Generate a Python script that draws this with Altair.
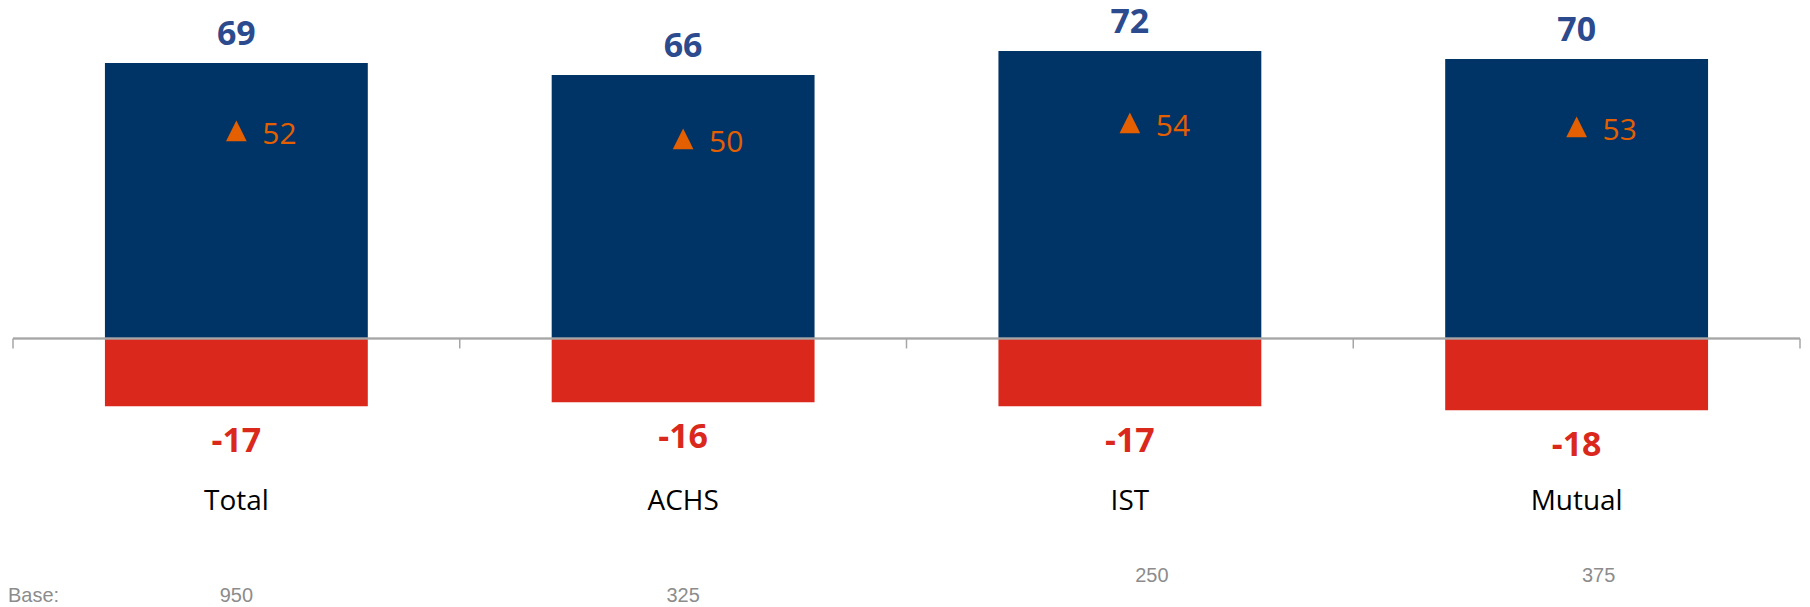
import altair as alt
import pandas as pd

categories = ["Total", "ACHS", "IST", "Mutual"]
positive = [69, 66, 72, 70]
negative = [-17, -16, -17, -18]
marker = [52, 50, 54, 53]
base = [950, 325, 250, 375]

df = pd.DataFrame({
    "cat": categories,
    "pos": positive,
    "neg": negative,
    "mark": marker,
    "base": [str(b) for b in base],
})
df["pos_label"] = df["pos"].astype(str)
df["neg_label"] = df["neg"].astype(str)
df["mark_label"] = df["mark"].astype(str)

W, H = 1790, 410
P_INNER, P_OUTER = 0.4116, 0.2058
STEP = W / len(categories)
GAP_HALF = STEP * P_INNER / 2
TICK_LEN = 2.5  # in y units (10 px)

NAVY = "#003366"
RED = "#DA291C"
LBL_BLUE = "#2C4A8E"
ORANGE = "#E35F00"
GRAY_LINE = "#A6A6A6"
GRAY_TXT = "#8C8C8C"

xscale = alt.Scale(domain=categories, paddingInner=P_INNER, paddingOuter=P_OUTER)
yscale = alt.Scale(domain=[-19.875, 82.625], nice=False, zero=False)

x_plain = alt.X("cat:N", scale=xscale, sort=categories, axis=None)


def y_of(f):
    return alt.Y(f, scale=yscale, axis=None)


base_chart = alt.Chart(df).transform_calculate(zero="0", tick_end=str(-TICK_LEN))

pos_bars = base_chart.mark_bar(color=NAVY).encode(x=x_plain, y=y_of("pos:Q"))
neg_bars = base_chart.mark_bar(color=RED).encode(x=x_plain, y=y_of("neg:Q"))

zero_line = base_chart.mark_rule(color=GRAY_LINE, strokeWidth=1.5).encode(
    x=alt.value(0), x2=alt.value(W), y=y_of("zero:Q"))

ticks_left = base_chart.mark_rule(color=GRAY_LINE, strokeWidth=1.5, xOffset=-GAP_HALF).encode(
    x=alt.X("cat:N", scale=xscale, sort=categories, axis=None, bandPosition=0),
    y=y_of("zero:Q"), y2="tick_end:Q")
ticks_right = base_chart.transform_filter(
    alt.FieldEqualPredicate(field="cat", equal=categories[-1])
).mark_rule(color=GRAY_LINE, strokeWidth=1.5, xOffset=GAP_HALF).encode(
    x=alt.X("cat:N", scale=xscale, sort=categories, axis=None, bandPosition=1),
    y=y_of("zero:Q"), y2="tick_end:Q")

pos_labels = base_chart.mark_text(font="Open Sans", fontSize=34, fontWeight="bold",
                                  color=LBL_BLUE, baseline="alphabetic", dy=-17.5).encode(
    x=x_plain, y=y_of("pos:Q"), text="pos_label:N")
neg_labels = base_chart.mark_text(font="Open Sans", fontSize=34, fontWeight="bold",
                                  color=RED, baseline="alphabetic", dy=45.5).encode(
    x=x_plain, y=y_of("neg:Q"), text="neg_label:N")

tri = base_chart.mark_point(shape="M0,-1L1,1L-1,1Z", filled=True, opacity=1,
                            color=ORANGE, size=430).encode(
    x=x_plain, y=y_of("mark:Q"))
tri_labels = base_chart.mark_text(font="Open Sans", fontSize=30, color=ORANGE,
                                  align="left", baseline="alphabetic", dx=26, dy=13.5).encode(
    x=x_plain, y=y_of("mark:Q"), text="mark_label:N")

cat_labels = base_chart.mark_text(font="Open Sans", fontSize=28, color="#000000",
                                  baseline="alphabetic").encode(
    x=x_plain, y=alt.value(502.5), text="cat:N")

base_row1 = base_chart.transform_filter(
    alt.FieldOneOfPredicate(field="cat", oneOf=categories[:2])
).mark_text(font="Liberation Sans", fontSize=20, color=GRAY_TXT,
            baseline="alphabetic").encode(x=x_plain, y=alt.value(594), text="base:N")
base_row2 = base_chart.transform_filter(
    alt.FieldOneOfPredicate(field="cat", oneOf=categories[2:])
).mark_text(font="Liberation Sans", fontSize=20, color=GRAY_TXT,
            baseline="alphabetic", dx=22).encode(x=x_plain, y=alt.value(574), text="base:N")
base_title = base_chart.transform_filter(
    alt.FieldEqualPredicate(field="cat", equal=categories[0])
).mark_text(font="Liberation Sans", fontSize=20, color=GRAY_TXT, align="left",
            baseline="alphabetic", text="Base:").encode(x=alt.value(-5), y=alt.value(594))

chart = alt.layer(
    pos_bars, neg_bars, zero_line, ticks_left, ticks_right, pos_labels, neg_labels,
    tri, tri_labels, cat_labels, base_row1, base_row2, base_title
).properties(
    width=W, height=H,
    autosize=alt.AutoSizeParams(type="none"),
    padding={"left": 5, "top": 0, "right": 2, "bottom": 189},
).configure_view(stroke=None)

chart.save("out.html", embed_options={"renderer": "svg", "actions": False})
